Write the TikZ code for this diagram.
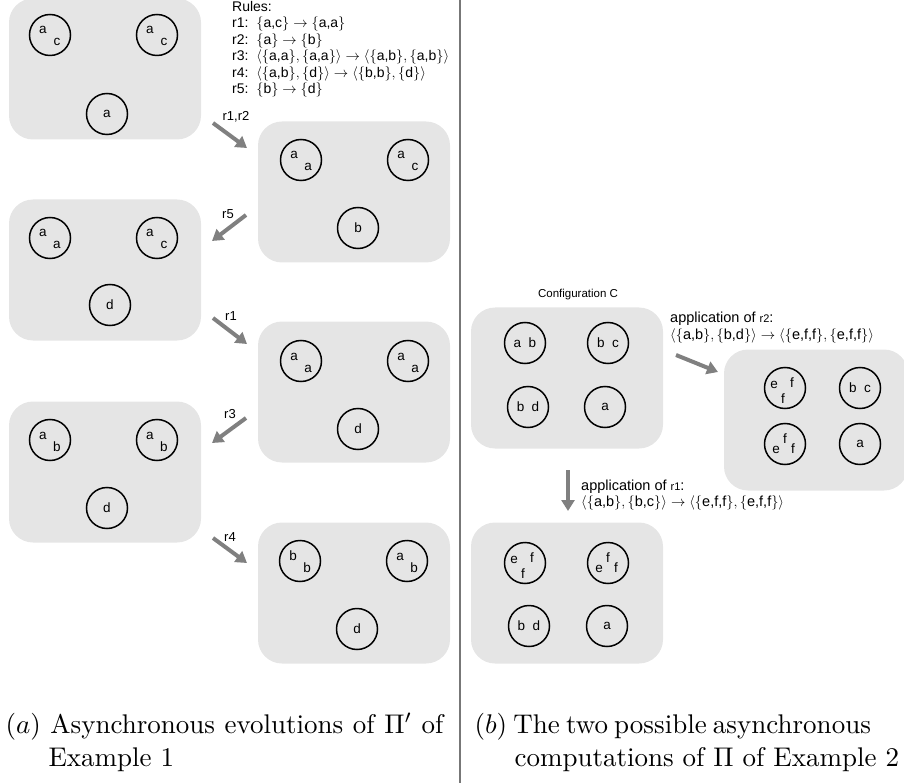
\documentclass[tikz,border=0pt]{standalone}
\usepackage{fontspec}
\newfontfamily\arialf{Liberation Sans}
\usetikzlibrary{arrows.meta}
\definecolor{boxgray}{HTML}{E5E5E5}
\definecolor{arrowgray}{HTML}{808080}
\definecolor{linegray}{HTML}{777777}
\newcommand\sfs[1]{\arialf\fontsize{#1}{#1}\selectfont}
% cell with two elements: diagonal
\newcommand\celldiag[5]{%
  \node[cell] (#1) at (#2,#3) {};
  \node[lbl] (#1t) at ([shift={(-7,-1)}]#1.center) {#4};
  \node[lbl] (#1b) at ([shift={(7,11)}]#1.center) {#5};}
% cell with e, f on top and f below
\newcommand\cellefa[3]{%
  \node[cell] (#1) at (#2,#3) {};
  \node[lbl] (#1e) at ([shift={(-11,0)}]#1.center) {e};
  \node[lbl] (#1f) at ([shift={(7,-1)}]#1.center) {f};
  \node[lbl] (#1g) at ([shift={(-2,15)}]#1.center) {f};}
% cell with f on top, e and f below
\newcommand\cellefb[3]{%
  \node[cell] (#1) at (#2,#3) {};
  \node[lbl] (#1f) at ([shift={(0,-1)}]#1.center) {f};
  \node[lbl] (#1e) at ([shift={(-9,9)}]#1.center) {e};
  \node[lbl] (#1g) at ([shift={(8,9)}]#1.center) {f};}
\newcommand\hsp{\hspace{7.5pt}}
\newcommand\fitline[2]{{\spaceskip=2.3pt plus 20pt\makebox[#1][s]{#2}}}
\begin{document}
\begin{tikzpicture}[x=1pt,y=-1pt,
  membrane/.style={fill=boxgray, rounded corners=24pt, minimum width=192pt, minimum height=141pt, inner sep=0pt},
  cell/.style={circle, draw=black, line width=1.5pt, minimum size=41pt, inner sep=0pt, font=\sfs{13.5}},
  lbl/.style={font=\sfs{13.5}, inner sep=0pt, anchor=base},
  garrow/.style={draw=arrowgray, line width=4pt, -{Triangle[length=11pt,width=13pt]}},
  rlbl/.style={font=\sfs{13}, inner sep=0pt},
  rule/.style={font=\sfs{14}, inner sep=0pt, anchor=west, text height=10pt, text depth=3pt},
  applbl/.style={font=\sfs{14.5}, inner sep=0pt, anchor=west, text height=10pt, text depth=3pt},
  captext/.style={scale=2.7, inner sep=0pt, anchor=base west}
]
\useasboundingbox (0,0) rectangle (904,783);
% divider
\draw[linegray, line width=2pt] (460,0) coordinate (divtop) -- (460,783) coordinate (divbot);

% ---------- (a) left part ----------
\node[membrane] (A1) at (105,69) {};
\node[membrane] (A2) at (354,192) {};
\node[membrane] (A3) at (105,270) {};
\node[membrane] (A4) at (354,392) {};
\node[membrane] (A5) at (105,472) {};
\node[membrane] (A6) at (354,593) {};

\celldiag{a1x}{50}{35}{a}{c}
\celldiag{a1y}{157}{35}{a}{c}
\node[cell] (a1z) at (107,114) {a};

\celldiag{a2x}{301}{160}{a}{a}
\celldiag{a2y}{408}{160}{a}{c}
\node[cell] (a2z) at (358,228) {b};

\celldiag{a3x}{50}{238}{a}{a}
\celldiag{a3y}{157}{238}{a}{c}
\node[cell] (a3z) at (110,305) {d};

\celldiag{a4x}{301}{361}{a}{a}
\celldiag{a4y}{408}{361}{a}{a}
\node[cell] (a4z) at (358,429) {d};

\celldiag{a5x}{50}{440}{a}{b}
\celldiag{a5y}{157}{440}{a}{b}
\node[cell] (a5z) at (107,508) {d};

\celldiag{a6x}{300}{561}{b}{b}
\celldiag{a6y}{407}{561}{a}{b}
\node[cell] (a6z) at (357,629) {d};

% rules
\node[rule] (rules0) at (232,8) {Rules:};
\node[rule] (rules1) at (232,24.5) {r1:\ \ $\{$a,c$\}$ $\rightarrow$ $\{$a,a$\}$};
\node[rule] (rules2) at (232,41) {r2:\ \ $\{$a$\}$ $\rightarrow$ $\{$b$\}$};
\node[rule] (rules3) at (232,57.5) {r3:\ \ $\langle\{$a,a$\},\{$a,a$\}\rangle\rightarrow\langle\{$a,b$\},\{$a,b$\}\rangle$};
\node[rule] (rules4) at (232,74) {r4:\ \ $\langle\{$a,b$\},\{$d$\}\rangle\rightarrow\langle\{$b,b$\},\{$d$\}\rangle$};
\node[rule] (rules5) at (232,90.5) {r5:\ \ $\{$b$\}$ $\rightarrow$ $\{$d$\}$};

% arrows (a)
\coordinate (p1s) at (213,123); \coordinate (p1e) at (247,148);
\draw[garrow] (p1s) -- (p1e);
\node[rlbl] (l1) at (236,117) {r1,r2};

\coordinate (p2s) at (246,215); \coordinate (p2e) at (212,241);
\draw[garrow] (p2s) -- (p2e);
\node[rlbl] (l2) at (228,214) {r5};

\coordinate (p3s) at (213,318); \coordinate (p3e) at (247,344);
\draw[garrow] (p3s) -- (p3e);
\node[rlbl] (l3) at (231,316) {r1};

\coordinate (p4s) at (246,418); \coordinate (p4e) at (212,443);
\draw[garrow] (p4s) -- (p4e);
\node[rlbl] (l4) at (230,414) {r3};

\coordinate (p5s) at (213,538); \coordinate (p5e) at (247,563);
\draw[garrow] (p5s) -- (p5e);
\node[rlbl] (l5) at (230,537) {r4};

% ---------- (b) right part ----------
\node[font=\sfs{11.5}, inner sep=0pt] (confC) at (578,295) {Configuration C};
\node[membrane] (B1) at (567,378) {};
\node[membrane, minimum width=184pt] (B2) at (816,420) {};
\node[membrane] (B3) at (567,593) {};

\node[cell] (b1a) at (525,343) {a\hsp b};
\node[cell] (b1b) at (608,343) {b\hsp c};
\node[cell] (b1c) at (528,407) {b\hsp d};
\node[cell] (b1d) at (605,407) {a};

\cellefa{b2a}{785}{388}
\node[cell] (b2b) at (860,388) {b\hsp c};
\cellefb{b2c}{785}{444}
\node[cell] (b2d) at (860,444) {a};

\cellefa{b3a}{525}{563}
\cellefb{b3b}{608}{563}
\node[cell] (b3c) at (529,626) {b\hsp d};
\node[cell] (b3d) at (607,626) {a};

\coordinate (q1s) at (676,355); \coordinate (q1e) at (718,372);
\draw[garrow] (q1s) -- (q1e);
\node[applbl] (app2a) at (670,319) {application of {\sfs{11}r2}:};
\node[applbl] (app2b) at (670,336) {$\langle\{$a,b$\},\{$b,d$\}\rangle\rightarrow\langle\{$e,f,f$\},\{$e,f,f$\}\rangle$};

\coordinate (q2s) at (568,470); \coordinate (q2e) at (568,511);
\draw[garrow] (q2s) -- (q2e);
\node[applbl] (app1a) at (581,487) {application of {\sfs{11}r1}:};
\node[applbl] (app1b) at (581,503) {$\langle\{$a,b$\},\{$b,c$\}\rangle\rightarrow\langle\{$e,f,f$\},\{$e,f,f$\}\rangle$};

% captions
\node[captext] (capa1) at (5,733) {\fitline{162.2pt}{$(a)$ Asynchronous evolutions of $\Pi'$ of}};
\node[captext] (capa2) at (48,766) {Example 1};
\node[captext] (capb1) at (474,733) {\fitline{146pt}{$(b)$ The two possible asynchronous}};
\node[captext] (capb2) at (514,766) {computations of $\Pi$ of Example 2};
\end{tikzpicture}
\end{document}
